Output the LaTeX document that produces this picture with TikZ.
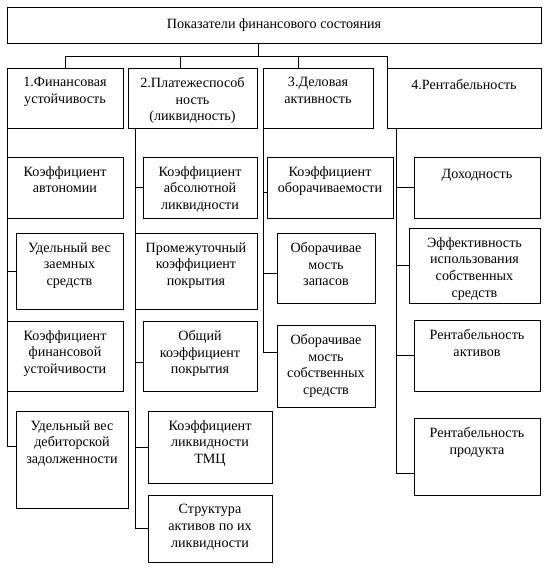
\documentclass[tikz,border=0pt]{standalone}
\usepackage{fontspec}
\setmainfont{Liberation Serif}
\usetikzlibrary{fit}
\tikzset{
  box/.style={draw, inner sep=0pt, outer sep=0pt},
  txt/.style={anchor=north, align=center, inner sep=0pt, yshift=-6.9pt,
    font=\fontsize{10.6}{12.4}\selectfont, execute at begin node=\strut},
}

\begin{document}
\begin{tikzpicture}[x=0.75pt, y=-0.75pt, line width=0.6pt]
  \useasboundingbox (0,0) rectangle (548,568);
  \node[box, fit={(7,7) (541,43)}, label={[txt, yshift=-0.5pt]north:Показатели финансового состояния}] (top) {};
  % groups
  \node[box, fit={(7,68) (123,128)}, label={[txt]north:{1.Финансовая\\устойчивость}}] (a1) {};
  \node[box, fit={(128,68) (257,128)}, label={[txt]north:{2.Платежеспособ\\ность\\(ликвидность)}}] (a2) {};
  \node[box, fit={(263,68) (373,128)}, label={[txt]north:{3.Деловая\\активность}}] (a3) {};
  \node[box, fit={(387,68) (541,128)}, label={[txt]north:{4.Рентабельность}}] (a4) {};
  % 1
  \node[box, fit={(7,157) (123,218)}, label={[txt]north:{Коэффициент\\автономии}}] (b11) {};
  \node[box, fit={(16,233) (123,309)}, label={[txt]north:{Удельный вес\\заемных\\средств}}] (b12) {};
  \node[box, fit={(7,321) (123,391)}, label={[txt]north:{Коэффициент\\финансовой\\устойчивости}}] (b13) {};
  \node[box, fit={(16,411) (128,508)}, label={[txt]north:{Удельный вес\\дебиторской\\задолженности}}] (b14) {};
  % 2
  \node[box, fit={(143,157) (257,218)}, label={[txt]north:{Коэффициент\\абсолютной\\ликвидности}}] (b21) {};
  \node[box, fit={(135,233) (257,309)}, label={[txt]north:{Промежуточный\\коэффициент\\покрытия}}] (b22) {};
  \node[box, fit={(143,321) (257,391)}, label={[txt]north:{Общий\\коэффициент\\покрытия}}] (b23) {};
  \node[box, fit={(148,411) (272,483)}, label={[txt]north:{Коэффициент\\ликвидности\\ТМЦ}}] (b24) {};
  \node[box, fit={(148,495) (272,562)}, label={[txt]north:{Структура\\активов по их\\ликвидности}}] (b25) {};
  % 3
  \node[box, fit={(267,157) (393,218)}, label={[txt]north:{Коэффициент\\оборачиваемости}}] (b31) {};
  \node[box, fit={(277,233) (375,303)}, label={[txt]north:{Оборачивае\\мость\\запасов}}] (b32) {};
  \node[box, fit={(277,325) (375,407)}, label={[txt]north:{Оборачивае\\мость\\собственных\\средств}}] (b33) {};
  % 4
  \node[box, fit={(414,157) (540,218)}, label={[txt]north:{Доходность}}] (b41) {};
  \node[box, fit={(409,228) (540,303)}, label={[txt]north:{Эффективность\\использования\\собственных\\средств}}] (b42) {};
  \node[box, fit={(414,320) (540,391)}, label={[txt]north:{Рентабельность\\активов}}] (b43) {};
  \node[box, fit={(414,418) (540,495)}, label={[txt]north:{Рентабельность\\продукта}}] (b44) {};

  % top level
  \draw ([xshift=-12pt]top.south) -- ++(0,13);
  \draw (a1.north) |- ([yshift=9pt]a4.north west) -- (a4.north west);
  \draw ([xshift=39pt]a2.north west) -- ++(0,-12);
  \draw ([xshift=26.25pt]a3.north west) -- ++(0,-12);

  % trunks
  \draw (a1.south west) |- ([yshift=10pt]b14.west);
  \draw (b12.west) -- (b12.west -| a1.west);

  \coordinate (t2) at ([xshift=5.25pt]a2.south west);
  \draw (t2) |- (b25.west);
  \coordinate (c23) at ([yshift=-4.5pt]b23.west);
  \draw (c23) -- (c23 -| t2);
  \foreach \b in {b21,b24}
    \draw (\b.west) -- (\b.west -| t2);

  \draw (a3.south west) |- ([yshift=10.5pt]b33.west);
  \coordinate (c31) at ([yshift=-4pt]b31.west);
  \coordinate (c32) at ([yshift=-3.75pt]b32.west);
  \draw (c31) -- (c31 -| a3.west);
  \draw (c32) -- (c32 -| a3.west);

  \coordinate (t4) at ([xshift=6.75pt]a4.south west);
  \draw (t4) |- ([yshift=-12.4pt]b44.west);
  \foreach \b in {b41,b42,b43}
    \draw (\b.west) -- (\b.west -| t4);
\end{tikzpicture}
\end{document}
